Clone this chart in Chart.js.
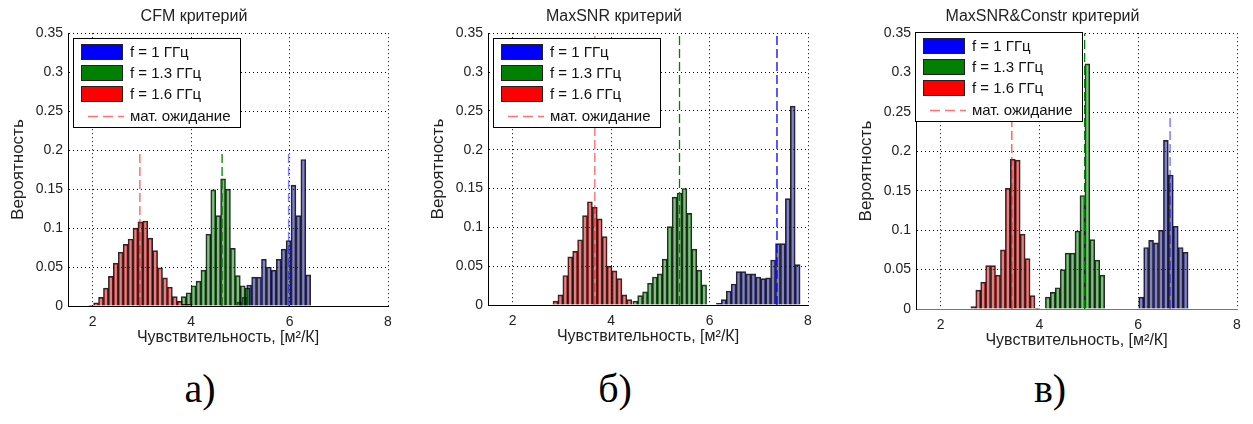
<!DOCTYPE html>
<html>
<head>
<meta charset="utf-8">
<script src="https://cdn.jsdelivr.net/npm/chart.js@4.4.1/dist/chart.umd.min.js"></script>
<style>
  body { margin: 0; background: #fff; width: 1253px; height: 424px; overflow: hidden; position: relative; }
  .panel { position: absolute; top: 0; }
  .caption { position: absolute; top: 369px; font-family: "Liberation Serif", "Times New Roman", serif; font-size: 40px; line-height: 1; color: #000; transform: translateX(-50%); }
</style>
</head>
<body>
<div class="panel" style="left:0px"><canvas id="c1" width="400" height="352"></canvas></div>
<div class="panel" style="left:420px"><canvas id="c2" width="400" height="351"></canvas></div>
<div class="panel" style="left:848px"><canvas id="c3" width="401" height="355"></canvas></div>
<div class="caption" id="cap1" style="left:200px"></div>
<div class="caption" id="cap2" style="left:615px"></div>
<div class="caption" id="cap3" style="left:1050px"></div>
<script>
// texts
const panelTitles = ["CFM критерий", "MaxSNR критерий", "MaxSNR&Constr критерий"];
const seriesLabels = ["f = 1 ГГц", "f = 1.3 ГГц", "f = 1.6 ГГц"];
const meanLabel = "мат. ожидание";
const xTitle = "Чувствительность, [м²/К]";
const yTitle = "Вероятность";
const captions = ["а)", "б)", "в)"];

// axis ticks
const xTicks = [2, 4, 6, 8];
const yTicks = [0, 0.05, 0.1, 0.15, 0.2, 0.25, 0.3, 0.35];
const yTickLabels = ["0", "0.05", "0.1", "0.15", "0.2", "0.25", "0.3", "0.35"];

// CFM критерий (bin centres / probabilities)
const cfmBlueX = [4.98, 5.08, 5.18, 5.28, 5.38, 5.48, 5.58, 5.68, 5.78, 5.88, 5.98, 6.08, 6.18, 6.28, 6.38];
const cfmBlueY = [0.005, 0.011, 0.027, 0.037, 0.037, 0.060, 0.050, 0.046, 0.060, 0.073, 0.084, 0.155, 0.116, 0.188, 0.040];
const cfmGreenX = [3.85, 3.95, 4.05, 4.15, 4.25, 4.35, 4.45, 4.55, 4.65, 4.75, 4.85, 4.95, 5.05, 5.15];
const cfmGreenY = [0.012, 0.017, 0.026, 0.032, 0.046, 0.092, 0.149, 0.116, 0.163, 0.150, 0.074, 0.039, 0.026, 0.023];
const cfmRedX = [1.97, 2.07, 2.17, 2.27, 2.37, 2.47, 2.57, 2.67, 2.77, 2.87, 2.97, 3.07, 3.17, 3.27, 3.37, 3.47, 3.57, 3.67, 3.77, 3.87, 3.97];
const cfmRedY = [0.001, 0.004, 0.011, 0.023, 0.038, 0.055, 0.069, 0.079, 0.086, 0.100, 0.108, 0.109, 0.087, 0.071, 0.049, 0.036, 0.024, 0.012, 0.006, 0.002, 0.002];
const cfmMeans = [5.98, 4.63, 2.96];
const cfmMeanTops = [0.2, 0.2, 0.2];

// MaxSNR критерий
const snrBlueX = [6.19, 6.29, 6.39, 6.49, 6.59, 6.69, 6.79, 6.89, 6.99, 7.09, 7.19, 7.29, 7.39, 7.49, 7.59, 7.69, 7.79];
const snrBlueY = [0.002, 0.007, 0.018, 0.027, 0.043, 0.043, 0.040, 0.040, 0.036, 0.034, 0.035, 0.058, 0.079, 0.079, 0.137, 0.256, 0.052];
const snrGreenX = [4.49, 4.59, 4.69, 4.79, 4.89, 4.99, 5.09, 5.19, 5.29, 5.39, 5.49, 5.59, 5.69, 5.79, 5.89];
const snrGreenY = [0.005, 0.012, 0.017, 0.028, 0.036, 0.040, 0.059, 0.101, 0.139, 0.144, 0.150, 0.118, 0.072, 0.045, 0.026];
const snrRedX = [2.87, 2.97, 3.07, 3.17, 3.27, 3.37, 3.47, 3.57, 3.67, 3.77, 3.87, 3.97, 4.07, 4.17, 4.27, 4.37];
const snrRedY = [0.005, 0.013, 0.038, 0.062, 0.069, 0.084, 0.115, 0.133, 0.126, 0.111, 0.088, 0.050, 0.044, 0.034, 0.013, 0.007];
const snrMeans = [7.37, 5.39, 3.67];
const snrMeanTops = [0.35, 0.35, 0.35];

// MaxSNR&Constr критерий
const conBlueX = [6.06, 6.16, 6.26, 6.36, 6.46, 6.56, 6.66, 6.76, 6.86, 6.96];
const conBlueY = [0.015, 0.078, 0.087, 0.084, 0.100, 0.214, 0.170, 0.105, 0.078, 0.072];
const conGreenX = [4.17, 4.27, 4.37, 4.47, 4.57, 4.67, 4.77, 4.87, 4.97, 5.07, 5.17, 5.27];
const conGreenY = [0.015, 0.021, 0.027, 0.050, 0.071, 0.071, 0.099, 0.144, 0.311, 0.088, 0.062, 0.043];
const conRedX = [2.66, 2.76, 2.86, 2.96, 3.06, 3.16, 3.26, 3.36, 3.46, 3.56, 3.66, 3.76, 3.86, 3.96];
const conRedY = [0.003, 0.024, 0.034, 0.055, 0.055, 0.043, 0.075, 0.153, 0.190, 0.189, 0.095, 0.064, 0.017, 0.001];
const conMeans = [6.645, 4.915, 3.44];
const conMeanTops = [0.25, 0.35, 0.25];

// styles
const barColors = ["rgba(30,30,140,0.55)", "rgba(0,128,0,0.5)", "rgba(205,0,0,0.5)"];
const swatchColors = ["#0000ff", "#008000", "#ff0000"];
const axisIds = ["xb", "xg", "xr"];
const font = '"Liberation Sans", Arial, sans-serif';

// legend box drawn inside the axes, like in matlab
const boxLegend = {
    id: "boxLegend",
    afterDatasetsDraw(chart, args, opts) {
        const ctx = chart.ctx;
        const x0 = Math.round(chart.chartArea.left + opts.dx);
        const y0 = Math.round(chart.chartArea.top + opts.dy);
        ctx.save();
        ctx.fillStyle = "#fff";
        ctx.fillRect(x0, y0, 168, 90);
        ctx.strokeStyle = "#000";
        ctx.lineWidth = 1;
        ctx.strokeRect(x0 + 0.5, y0 + 0.5, 167, 89);
        ctx.font = "15px " + font;
        ctx.textBaseline = "middle";
        seriesLabels.forEach((label, i) => {
            const y = y0 + 6 + i * 21;
            ctx.fillStyle = swatchColors[i];
            ctx.fillRect(x0 + 8, y, 42, 16);
            ctx.strokeStyle = "#222";
            ctx.strokeRect(x0 + 8.5, y + 0.5, 41, 15);
            ctx.fillStyle = "#111";
            ctx.fillText(label, x0 + 57, y + 9);
        });
        ctx.strokeStyle = "rgba(255,0,0,0.55)";
        ctx.lineWidth = 1.5;
        ctx.setLineDash([10, 5]);
        ctx.beginPath();
        ctx.moveTo(x0 + 15, y0 + 78.5);
        ctx.lineTo(x0 + 51, y0 + 78.5);
        ctx.stroke();
        ctx.setLineDash([]);
        ctx.fillStyle = "#111";
        ctx.fillText(meanLabel, x0 + 57, y0 + 79);
        ctx.restore();
    }
};

function hiddenAxis() {
    return { type: "linear", min: 1.5, max: 8, offset: false, display: false };
}

function drawPanel(canvasId, title, bins, means, meanTops, lineColors, legendPos, axisColor) {
    const datasets = [];
    bins.forEach((b, i) => {
        datasets.push({
            type: "bar",
            label: seriesLabels[i],
            data: b[0].map((x, j) => ({ x: x, y: b[1][j] })),
            xAxisID: axisIds[i],
            backgroundColor: barColors[i],
            borderColor: "rgba(0,0,0,0.85)",
            borderWidth: 1,
            grouped: false,
            barPercentage: 1,
            categoryPercentage: 1,
            order: 3 - i
        });
    });
    means.forEach((m, i) => {
        datasets.push({
            type: "line",
            label: meanLabel,
            data: [{ x: m, y: 0 }, { x: m, y: meanTops[i] }],
            xAxisID: "x",
            borderColor: lineColors[i],
            borderWidth: 1.3,
            borderDash: [9, 4],
            pointRadius: 0,
            fill: false,
            order: 0
        });
    });

    new Chart(document.getElementById(canvasId).getContext("2d"), {
        type: "bar",
        data: { datasets },
        plugins: [boxLegend],
        options: {
            responsive: false,
            animation: false,
            layout: { padding: { left: 0, right: 12, top: 0, bottom: 0 } },
            plugins: {
                legend: { display: false },
                tooltip: { enabled: false },
                title: {
                    display: true,
                    text: title,
                    color: "#222",
                    font: { family: font, size: 16, weight: "normal" },
                    padding: { top: 7, bottom: 7 }
                },
                boxLegend: legendPos
            },
            scales: {
                x: {
                    type: "linear",
                    min: 1.5,
                    max: 8,
                    offset: false,
                    afterBuildTicks: s => { s.ticks = xTicks.map(v => ({ value: v })); },
                    afterFit: s => { s.height = 46; },
                    ticks: { color: "#222", font: { family: font, size: 14 }, padding: 8 },
                    grid: { color: "#000", lineWidth: 1, drawTicks: false, offset: false },
                    border: { display: true, color: axisColor, width: 1, dash: [1, 3] },
                    title: {
                        display: true,
                        text: xTitle,
                        color: "#222",
                        font: { family: font, size: 16 },
                        padding: { top: 0, bottom: 5 }
                    }
                },
                xb: hiddenAxis(),
                xg: hiddenAxis(),
                xr: hiddenAxis(),
                y: {
                    min: 0,
                    max: 0.35,
                    afterBuildTicks: s => { s.ticks = yTicks.map(v => ({ value: v })); },
                    afterFit: s => { s.width = 68; },
                    ticks: {
                        color: "#222",
                        font: { family: font, size: 14 },
                        padding: 5,
                        callback: (v, i) => yTickLabels[i]
                    },
                    grid: { color: "#000", lineWidth: 1, drawTicks: false },
                    border: { display: true, color: "#000", width: 1, dash: [1, 3] },
                    title: {
                        display: true,
                        text: yTitle,
                        color: "#222",
                        font: { family: font, size: 17 },
                        padding: { top: 8, bottom: 0 }
                    }
                }
            }
        }
    });
}

drawPanel("c1", panelTitles[0],
    [[cfmBlueX, cfmBlueY], [cfmGreenX, cfmGreenY], [cfmRedX, cfmRedY]],
    cfmMeans, cfmMeanTops,
    ["rgba(0,0,255,0.5)", "#008000", "rgba(255,0,0,0.65)"],
    { dx: 5, dy: 5 }, "#000");

drawPanel("c2", panelTitles[1],
    [[snrBlueX, snrBlueY], [snrGreenX, snrGreenY], [snrRedX, snrRedY]],
    snrMeans, snrMeanTops,
    ["#0000ff", "#008000", "rgba(255,0,0,0.6)"],
    { dx: 5, dy: 5 }, "#000");

drawPanel("c3", panelTitles[2],
    [[conBlueX, conBlueY], [conGreenX, conGreenY], [conRedX, conRedY]],
    conMeans, conMeanTops,
    ["rgba(0,0,255,0.6)", "#008000", "rgba(255,0,0,0.7)"],
    { dx: -1, dy: -1 }, "#777");

captions.forEach((c, i) => { document.getElementById("cap" + (i + 1)).textContent = c; });
</script>
</body>
</html>
